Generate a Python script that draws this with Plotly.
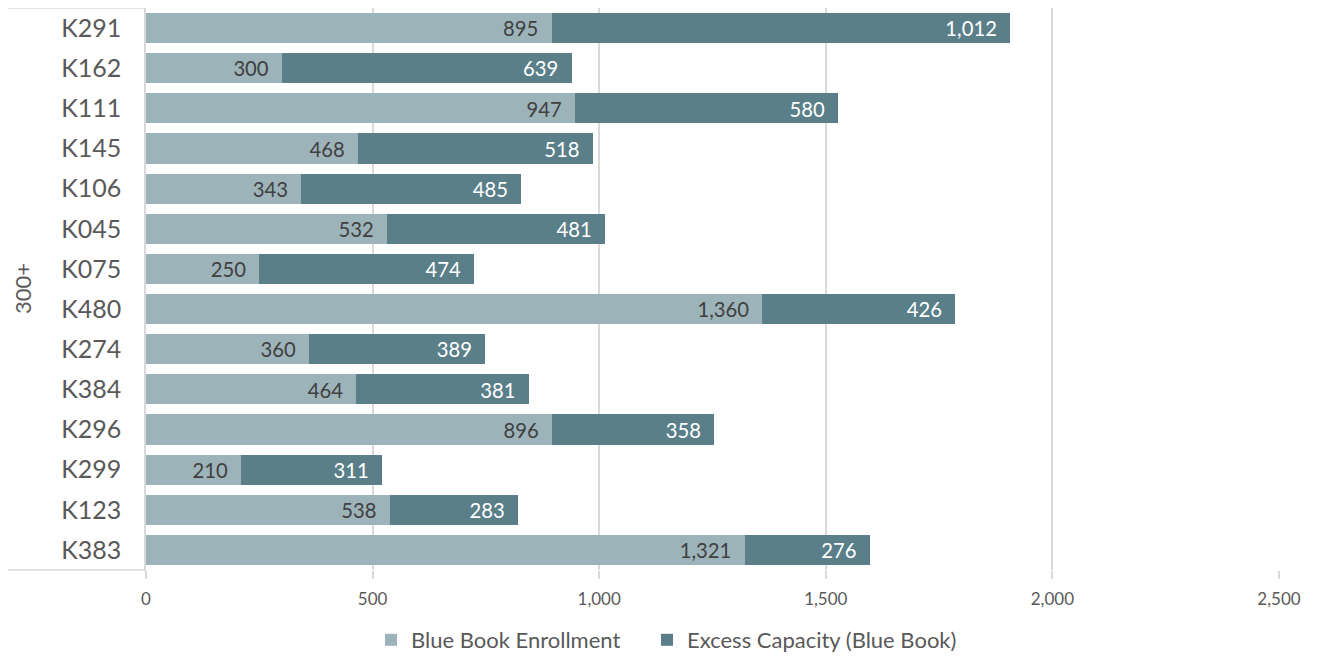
import plotly.graph_objects as go

schools = ["K291", "K162", "K111", "K145", "K106", "K045", "K075",
           "K480", "K274", "K384", "K296", "K299", "K123", "K383"]
enrollment = [895, 300, 947, 468, 343, 532, 250, 1360, 360, 464, 896, 210, 538, 1321]
excess = [1012, 639, 580, 518, 485, 481, 474, 426, 389, 381, 358, 311, 283, 276]
group_label = "300+"
x_ticks = [0, 500, 1000, 1500, 2000, 2500]

FONT = "Lato, 'Open Sans', sans-serif"
LIGHT = "#9db3ba"
DARK = "#5a7f89"
GRID = "#d9d9d9"
PAD = "\u00a0\u00a0"  # Excel-like padding at the inside end of bars

# page body has an 8px margin, so the figure sits 8px down/right
W, H = 1320, 656
L, R, T, B = 138, 49, 0, 94
plot_w = W - L - R
plot_h = H - T - B

fig = go.Figure()
fig.add_trace(go.Bar(
    y=schools, x=enrollment, orientation="h", name="Blue Book Enrollment",
    marker=dict(color=LIGHT, line=dict(width=0)),
    texttemplate="%{x:,}" + PAD, textposition="inside", insidetextanchor="end",
    textfont=dict(color="#404040", size=21, family=FONT),
    hovertemplate="%{y}: %{x:,}<extra>Blue Book Enrollment</extra>",
    legend="legend", showlegend=True,
))
fig.add_trace(go.Bar(
    y=schools, x=excess, orientation="h", name="Excess Capacity (Blue Book)",
    marker=dict(color=DARK, line=dict(width=0)),
    texttemplate="%{x:,}" + PAD, textposition="inside", insidetextanchor="end",
    textfont=dict(color="white", size=21, family=FONT),
    hovertemplate="%{y}: %{x:,}<extra>Excess Capacity (Blue Book)</extra>",
    legend="legend2", showlegend=True,
))

# group label box on the left (multi-level category axis look)
x0 = -L / plot_w
fig.add_shape(type="line", xref="paper", yref="paper", x0=x0, x1=0, y0=1, y1=1,
              line=dict(color=GRID, width=1.5))
fig.add_shape(type="line", xref="paper", yref="paper", x0=x0, x1=0, y0=0, y1=0,
              line=dict(color=GRID, width=1.5))
fig.add_annotation(text=group_label, xref="paper", yref="paper",
                   x=-(L - 14) / plot_w, xanchor="center", y=0.5, yanchor="middle",
                   textangle=-90, showarrow=False,
                   font=dict(size=22, color="#595959", family=FONT))

legend_style = dict(orientation="h", xanchor="left", y=-70 / plot_h, yanchor="middle",
                    font=dict(size=22, color="#595959"))

fig.update_layout(
    width=W, height=H,
    barmode="stack", bargap=0.25,
    plot_bgcolor="white", paper_bgcolor="white",
    margin=dict(l=L, r=R, t=T, b=B),
    font=dict(family=FONT, color="#595959"),
    uniformtext=dict(minsize=10, mode="show"),
    showlegend=True,
    legend=dict(x=0.1986, **legend_style),
    legend2=dict(x=0.4422, **legend_style),
)
fig.update_xaxes(
    range=[0, 2500], tickvals=x_ticks, tickformat=",", showgrid=True,
    gridcolor=GRID, gridwidth=1.5, zeroline=False, showline=False,
    ticks="outside", ticklen=8, tickcolor=GRID, tickwidth=1.5,
    ticklabelstandoff=6,
    tickfont=dict(size=17, color="#595959"),
)
fig.update_yaxes(
    autorange="reversed", showline=True, linecolor=GRID, linewidth=1.5,
    showgrid=False, ticks="", ticklabelstandoff=18,
    tickfont=dict(size=25, color="#595959"),
)

fig.write_html("out.html")
